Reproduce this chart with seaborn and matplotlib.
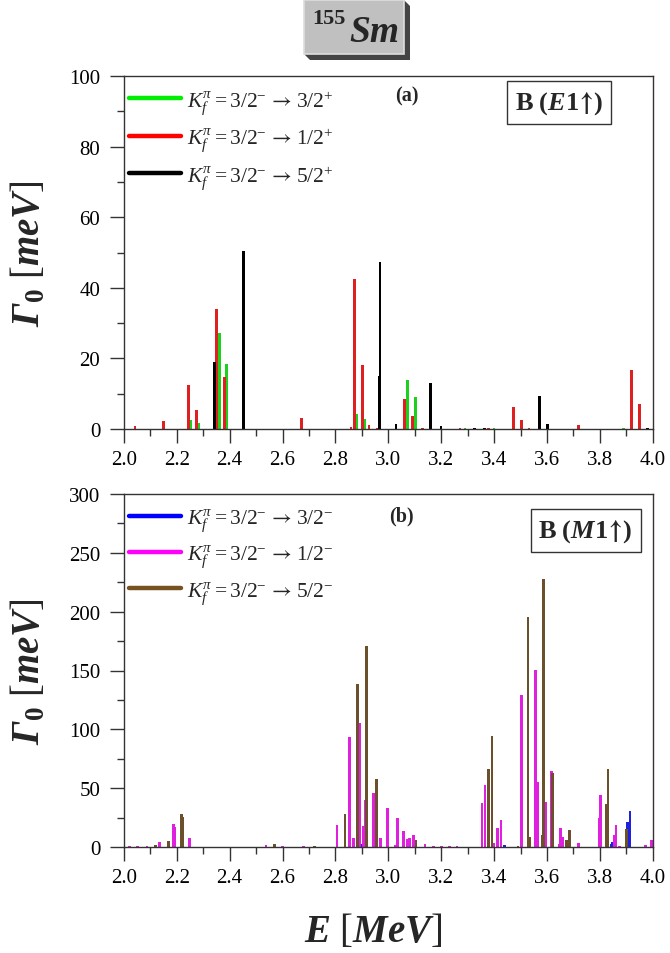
import numpy as np
import pandas as pd
import matplotlib
matplotlib.use("Agg")
import matplotlib.pyplot as plt
import seaborn as sns
from matplotlib.lines import Line2D
from matplotlib.patches import Rectangle, Polygon
from matplotlib.ticker import MultipleLocator, FormatStrFormatter

sns.set_theme(style="ticks")
plt.rcParams["font.family"] = ["Liberation Serif", "DejaVu Serif"]
plt.rcParams["mathtext.fontset"] = "custom"
plt.rcParams["mathtext.rm"] = "Liberation Serif"
plt.rcParams["mathtext.it"] = "Liberation Serif:italic"
plt.rcParams["mathtext.bf"] = "Liberation Serif:bold"
plt.rcParams["mathtext.sf"] = "STIXGeneral:bold"
plt.rcParams["mathtext.tt"] = "STIXGeneral"
try:
    plt.rcParams["mathtext.bfit"] = "Liberation Serif:italic:bold"
except KeyError:
    pass

# ---------------- data: panel (a) E1 ----------------
E1_32_E = [2.254, 2.284, 2.361, 2.389, 2.882, 2.912, 3.072, 3.102, 3.290, 3.400, 3.890]
E1_32_G = [2.5, 1.7, 27.3, 18.3, 4.2, 2.8, 13.8, 9.2, 0.3, 0.3, 0.3]
E1_12_E = [2.042, 2.149, 2.244, 2.274, 2.351, 2.381, 2.671, 2.859, 2.872, 2.902, 2.927,
           2.957, 3.060, 3.091, 3.128, 3.271, 3.380, 3.472, 3.503, 3.532, 3.719, 3.919, 3.950]
E1_12_G = [0.8, 2.3, 12.4, 5.3, 34.1, 14.6, 3.0, 0.6, 42.5, 18.2, 1.0,
           0.3, 8.6, 3.7, 0.3, 0.3, 0.3, 6.3, 2.6, 0.3, 1.1, 16.6, 7.1]
E1_52_E = [2.344, 2.452, 2.965, 2.969, 3.029, 3.161, 3.199, 3.327, 3.364, 3.572, 3.602, 3.980]
E1_52_G = [19.0, 50.5, 15.0, 47.4, 1.4, 12.9, 0.9, 0.3, 0.3, 9.4, 1.3, 0.4]

# ---------------- data: panel (b) M1 ----------------
M1_32_E = [2.897, 3.439, 3.843, 3.849, 3.904, 3.914]
M1_32_G = [2.8, 2.1, 2.8, 3.9, 21.0, 30.8]
M1_12_E = [2.022, 2.052, 2.088, 2.136, 2.187, 2.192, 2.248, 2.538, 2.600, 2.680, 2.806,
           2.854, 2.868, 2.892, 2.907, 2.912, 2.944, 2.971, 2.998, 3.026, 3.035, 3.058,
           3.074, 3.080, 3.095, 3.139, 3.170, 3.200, 3.230, 3.260, 3.354, 3.366, 3.400,
           3.413, 3.426, 3.503, 3.557, 3.565, 3.595, 3.616, 3.645, 3.651, 3.658, 3.718,
           3.797, 3.801, 3.855, 3.861, 3.873, 3.973, 3.994]
M1_12_G = [1.0, 1.0, 1.0, 4.6, 19.5, 16.6, 7.9, 1.5, 0.6, 0.6, 18.6,
           93.7, 7.7, 105.7, 18.0, 39.8, 45.5, 7.7, 32.9, 2.1, 24.9, 13.5,
           7.0, 7.7, 10.4, 2.8, 1.0, 1.0, 1.0, 1.0, 37.4, 53.0, 3.1,
           15.9, 23.0, 129.3, 150.3, 55.4, 38.0, 64.4, 2.8, 16.5, 8.3, 3.4,
           24.9, 44.6, 10.4, 19.0, 1.0, 2.1, 6.2]
M1_52_E = [2.119, 2.170, 2.219, 2.223, 2.569, 2.720, 2.836, 2.884, 2.918, 2.955,
           3.105, 3.380, 3.392, 3.490, 3.528, 3.536, 3.583, 3.588, 3.620, 3.674, 3.685,
           3.823, 3.831, 3.900]
M1_52_G = [2.1, 4.8, 28.4, 25.9, 2.3, 0.6, 27.8, 138.6, 170.7, 57.5,
           6.2, 65.9, 94.6, 1.0, 195.5, 8.3, 10.4, 227.5, 62.9, 6.2, 14.4,
           36.7, 65.9, 15.5]

LAB_A = [r"$K_f^{\pi} = 3/2^{-}\ \mathtt{→}\ 3/2^{+}$",
         r"$K_f^{\pi} = 3/2^{-}\ \mathtt{→}\ 1/2^{+}$",
         r"$K_f^{\pi} = 3/2^{-}\ \mathtt{→}\ 5/2^{+}$"]
LAB_B = [r"$K_f^{\pi} = 3/2^{-}\ \mathtt{→}\ 3/2^{-}$",
         r"$K_f^{\pi} = 3/2^{-}\ \mathtt{→}\ 1/2^{-}$",
         r"$K_f^{\pi} = 3/2^{-}\ \mathtt{→}\ 5/2^{-}$"]
COL_A = ["#00ee00", "#ff0000", "#000000"]
COL_B = ["#0000ff", "#ff00ff", "#765220"]

XTICKS = [2.0, 2.2, 2.4, 2.6, 2.8, 3.0, 3.2, 3.4, 3.6, 3.8, 4.0]

W, H = 670, 954
fig = plt.figure(figsize=(W / 100, H / 100), dpi=100)


def fx(px):
    return px / W


def fy(py):
    return 1 - py / H


def make_df(series, labels):
    rows = []
    for (e, g), lab in zip(series, labels):
        for ei, gi in zip(e, g):
            rows.append({"E": ei, "G": gi, "series": lab})
    return pd.DataFrame(rows)


def panel(ax, df, labels, colors, ymax, ymaj, ymin, tag, tagpos, boxtxt, boxpos):
    uniq = np.unique(df["E"].values)
    md = np.min(np.diff(uniq))
    sns.barplot(data=df, x="E", y="G", hue="series", hue_order=labels,
                palette=dict(zip(labels, colors)), native_scale=True,
                dodge=False, errorbar=None, width=0.0105 / md,
                linewidth=0, edgecolor="none", legend=False, ax=ax)
    ax.set_xlim(2.0, 4.0)
    ax.set_ylim(0, ymax)
    ax.set_xticks(XTICKS)
    ax.xaxis.set_major_formatter(FormatStrFormatter("%.1f"))
    ax.xaxis.set_minor_locator(MultipleLocator(0.1))
    ax.yaxis.set_major_locator(MultipleLocator(ymaj))
    ax.yaxis.set_minor_locator(MultipleLocator(ymin))
    ax.tick_params(axis="both", which="major", direction="out", length=10,
                   width=1, labelsize=15, colors="#333333", labelcolor="black")
    ax.tick_params(axis="both", which="minor", direction="out", length=5,
                   width=1, colors="#333333")
    ax.tick_params(axis="x", which="major", pad=5)
    ax.tick_params(axis="y", which="major", pad=7)
    for s in ax.spines.values():
        s.set_color("#333333")
        s.set_linewidth(1.0)
    ax.set_xlabel("")
    ax.set_ylabel(r"$\mathbfit{\Gamma}_{\mathbf{0}}\ [\mathbfit{meV}]$", fontsize=28)
    handles = [Line2D([0], [0], color=c, lw=3.2) for c in colors]
    ax.legend(handles, labels, loc="upper left", frameon=False, fontsize=15.5,
              handlelength=2.4, handletextpad=0.3, labelspacing=0.45,
              borderaxespad=0.0, borderpad=0.0, bbox_to_anchor=(0.01, 0.965))
    ax.text(tagpos[0], tagpos[1], tag, transform=ax.transAxes, fontsize=14.5,
            fontweight="bold", ha="center", va="center")
    ax.text(boxpos[0], boxpos[1], boxtxt, transform=ax.transAxes, fontsize=19,
            ha="center", va="center",
            bbox=dict(boxstyle="square,pad=0.3", fc="white", ec="#333333", lw=1))


ax_a = fig.add_axes([fx(123.8), fy(430), fx(652.8) - fx(123.8), fy(77) - fy(430)])
ax_b = fig.add_axes([fx(123.8), fy(848), fx(652.8) - fx(123.8), fy(495) - fy(848)])

df_a = make_df([(E1_32_E, E1_32_G), (E1_12_E, E1_12_G), (E1_52_E, E1_52_G)], LAB_A)
df_b = make_df([(M1_32_E, M1_32_G), (M1_12_E, M1_12_G), (M1_52_E, M1_52_G)], LAB_B)

panel(ax_a, df_a, LAB_A, COL_A, 100, 20, 10, "(a)", (0.535, 0.944),
      r"$\mathbf{B\ (}\mathbfit{E}\mathbf{1}\mathsf{↑}\mathbf{)}$", (0.823, 0.925))
panel(ax_b, df_b, LAB_B, COL_B, 300, 50, 25, "(b)", (0.524, 0.939),
      r"$\mathbf{B\ (}\mathbfit{M}\mathbf{1}\mathsf{↑}\mathbf{)}$", (0.873, 0.897))

ax_a.yaxis.set_label_coords(-0.143, 0.5)
ax_b.yaxis.set_label_coords(-0.143, 0.5)

fig.text(fx(373), fy(932), r"$\mathbfit{E}\ [\mathbfit{MeV}]$", fontsize=28,
         ha="center", va="center")

# title box with bevel
shadow = Polygon([(fx(404), fy(1)), (fx(410), fy(7)), (fx(410), fy(61)),
                  (fx(310), fy(61)), (fx(304), fy(55)), (fx(404), fy(55))],
                 closed=True, transform=fig.transFigure, fc="#444444", ec="none")
fig.add_artist(shadow)
face = Rectangle((fx(304), fy(55)), fx(404) - fx(304), fy(1) - fy(55),
                 transform=fig.transFigure, fc="#c0c0c0", ec="#dddddd", lw=1.2)
fig.add_artist(face)
fig.text(fx(329), fy(19), "155", fontsize=16, fontweight="bold", ha="center",
         va="center")
fig.text(fx(374), fy(32), "Sm", fontsize=27, fontweight="bold", fontstyle="italic",
         ha="center", va="center")

fig.savefig("out.png", dpi=100)
